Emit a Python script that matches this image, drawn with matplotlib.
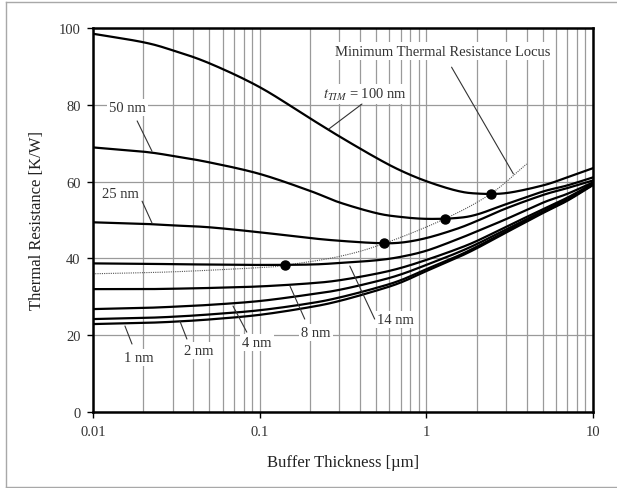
import numpy as np
import matplotlib
matplotlib.use("Agg")
import matplotlib.pyplot as plt
from matplotlib.lines import Line2D

plt.rcParams['font.family'] = ['Liberation Serif', 'DejaVu Serif']
plt.rcParams['mathtext.fontset'] = 'stix'

# ---------------- data ----------------
x_um = [0.01, 0.02, 0.03, 0.05, 0.1, 0.2, 0.3, 0.5, 0.7, 1, 1.5, 2, 3, 5, 7, 10]
r_100nm = [98.5, 96.3, 94.2, 90.8, 84.6, 76.5, 71.8, 66.2, 62.9, 60.1, 57.7, 56.9, 57.0, 59.0, 61.1, 63.5]
r_50nm = [68.9, 67.8, 66.7, 65.0, 62.0, 57.6, 54.6, 51.8, 50.8, 50.3, 50.5, 51.4, 54.1, 57.4, 59.0, 61.1]
r_25nm = [49.4, 49.0, 48.6, 48.1, 46.8, 45.3, 44.6, 44.0, 44.1, 45.3, 47.6, 49.7, 53.0, 56.5, 58.3, 60.3]
r_14nm = [38.7, 38.6, 38.5, 38.4, 38.3, 38.4, 38.8, 39.5, 40.4, 42.0, 44.8, 47.0, 50.2, 54.5, 56.8, 59.8]
r_8nm = [32.0, 32.0, 32.1, 32.3, 32.7, 33.5, 34.3, 36.0, 37.5, 39.6, 42.3, 44.5, 48.2, 52.8, 55.8, 59.5]
r_4nm = [26.8, 27.1, 27.4, 27.9, 28.9, 30.6, 31.8, 34.0, 35.8, 38.3, 41.3, 43.7, 47.5, 52.3, 55.4, 59.3]
r_2nm = [24.2, 24.5, 24.8, 25.4, 26.5, 28.3, 29.8, 32.3, 34.3, 37.2, 40.4, 43.0, 47.0, 52.0, 55.2, 59.2]
r_1nm = [22.9, 23.2, 23.5, 24.1, 25.3, 27.3, 28.9, 31.6, 33.7, 36.7, 40.0, 42.6, 46.7, 51.8, 55.0, 59.1]

min_x = [0.142, 0.56, 1.29, 2.43]
min_r = [38.2, 43.9, 50.3, 56.8]

locus_x = [0.01, 0.03, 0.1, 0.142, 0.3, 0.56, 1.29, 2.43, 4.0]
locus_r = [36.0, 36.5, 37.6, 38.2, 40.5, 43.9, 50.3, 56.8, 64.6]

curves = [r_100nm, r_50nm, r_25nm, r_14nm, r_8nm, r_4nm, r_2nm, r_1nm]


def smooth(xs, ys, n=20):
    """Catmull-Rom spline through points in (log10 x, y) space (rendering only)."""
    lx = np.log10(np.asarray(xs, float))
    y = np.asarray(ys, float)
    P = np.column_stack([lx, y])
    P = np.vstack([2 * P[0] - P[1], P, 2 * P[-1] - P[-2]])
    out = []
    for i in range(1, len(P) - 2):
        p0, p1, p2, p3 = P[i - 1], P[i], P[i + 1], P[i + 2]
        t = np.linspace(0, 1, n, endpoint=False)[:, None]
        seg = 0.5 * ((2 * p1) + (-p0 + p2) * t + (2 * p0 - 5 * p1 + 4 * p2 - p3) * t ** 2
                     + (-p0 + 3 * p1 - 3 * p2 + p3) * t ** 3)
        out.append(seg)
    out.append(P[-2][None, :])
    out = np.vstack(out)
    return 10 ** out[:, 0], out[:, 1]


fig = plt.figure(figsize=(6.17, 4.89), dpi=100)
ax = fig.add_axes([93 / 617, 1 - 413 / 489, 500 / 617, 384 / 489])

# outer light frame
fig.add_artist(Line2D([6 / 617, 6 / 617], [1 - 488 / 489, 1 - 3 / 489], transform=fig.transFigure,
                      color='#a8a8a8', lw=1))
fig.add_artist(Line2D([6 / 617, 1], [1 - 3 / 489, 1 - 3 / 489], transform=fig.transFigure,
                      color='#a8a8a8', lw=1))
fig.add_artist(Line2D([6 / 617, 1], [1 - 488 / 489, 1 - 488 / 489], transform=fig.transFigure,
                      color='#a8a8a8', lw=1))

ax.set_xscale('log')
ax.set_xlim(0.01, 10)
ax.set_ylim(0, 100)
ax.set_yticks([0, 20, 40, 60, 80, 100])
ax.set_xticks([0.01, 0.1, 1, 10])
ax.set_xticklabels(['0.01', '0.1', '1', '10'])
ax.xaxis.set_minor_locator(matplotlib.ticker.LogLocator(base=10, subs=np.arange(2, 10)))
ax.xaxis.set_minor_formatter(matplotlib.ticker.NullFormatter())
ax.tick_params(axis='x', which='minor', length=0)
ax.tick_params(axis='both', which='major', length=4, width=1, labelsize=10.5, pad=5,
               labelcolor='#333333')
ax.grid(True, which='both', axis='x', color='#9a9a9a', lw=0.9)
ax.grid(True, which='major', axis='y', color='#9a9a9a', lw=0.9)
ax.set_axisbelow(True)
for s in ax.spines.values():
    s.set_linewidth(1.8)
    s.set_color('black')

for r in curves:
    sx, sy = smooth(x_um, r)
    ax.plot(sx, sy, color='black', lw=1.6, zorder=3)

lx, ly = smooth(locus_x, locus_r)
ax.plot(lx, ly, color='#555555', lw=0.8, ls=(0, (1, 1)), zorder=2.5)
ax.plot(min_x, min_r, 'o', color='black', ms=6.5, zorder=4)

ax.set_xlabel('Buffer Thickness [µm]', fontsize=12, labelpad=12, color='#222222')
ax.set_ylabel('Thermal Resistance [K/W]', fontsize=12, labelpad=10, color='#222222')

bbox = dict(facecolor='white', edgecolor='none', pad=1.5)
lead = dict(arrowstyle='-', color='#333333', lw=0.8, shrinkA=0, shrinkB=0)
labels = [
    ('50 nm', (0.0162, 79.4), (0.0184, 75.8), (0.0226, 67.9)),
    ('25 nm', (0.01452, 56.8), (0.0197, 54.9), (0.0226, 49.2)),
    (r'$t_{TIM}$ = 100 nm', (0.4285, 82.8), (0.411, 80.2), (0.26, 73.7)),
    ('Minimum Thermal Resistance Locus', (1.259, 94.0), (1.417, 89.8), (3.33, 62.0)),
    ('1 nm', (0.0189, 14.3), (0.01714, 17.7), (0.01555, 22.4)),
    ('2 nm', (0.0432, 16.1), (0.0366, 19.0), (0.0332, 23.7)),
    ('4 nm', (0.0964, 18.0), (0.0837, 20.8), (0.0692, 27.6)),
    ('8 nm', (0.2178, 20.8), (0.1864, 24.2), (0.152, 32.8)),
    ('14 nm', (0.649, 24.2), (0.49, 24.2), (0.3475, 38.0)),
]
for txt, pos, a, b in labels:
    ax.text(pos[0], pos[1], txt, ha='center', va='center', fontsize=10.5, color='#333333',
            bbox=bbox, zorder=5)
    ax.annotate('', xy=b, xytext=a, arrowprops=lead, zorder=5)

fig.savefig('out.png', dpi=100)
